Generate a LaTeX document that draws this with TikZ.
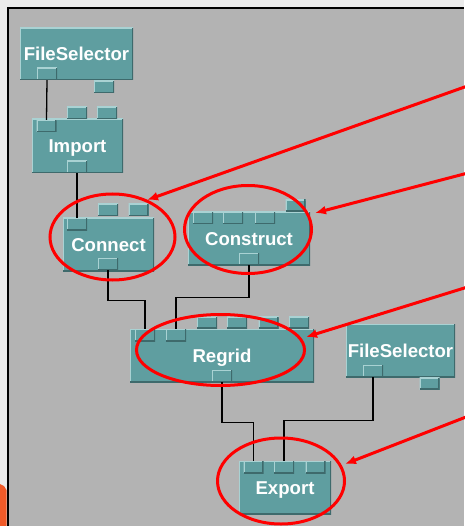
\documentclass[tikz,border=0pt]{standalone}
\usepackage{fontspec}
\setmainfont{Liberation Sans}
\usetikzlibrary{arrows.meta,shapes.geometric}
\definecolor{cadet}{HTML}{5F9EA0}
\definecolor{edgelight}{HTML}{A9D2D3}
\definecolor{edgedark}{HTML}{3E6A6C}
\definecolor{panelgray}{HTML}{B3B3B3}
\definecolor{outergray}{HTML}{EBEBEB}
\definecolor{orangemark}{HTML}{F05A28}
\definecolor{hl}{HTML}{FF0000}
\tikzset{
  bevel/.style={path picture={
    \draw[line width=2.4pt,edgelight] (path picture bounding box.south west) -- (path picture bounding box.north west) -- (path picture bounding box.north east);
    \draw[line width=2.4pt,edgedark] (path picture bounding box.north east) -- (path picture bounding box.south east) -- (path picture bounding box.south west);}},
  mod/.style={fill=cadet, bevel, text=white, inner sep=0pt,
    font=\fontsize{18.6}{20}\selectfont\bfseries, text height=13.3pt, text depth=0pt},
  prt/.style={fill=cadet, bevel, inner sep=0pt, minimum width=20pt, minimum height=12pt},
  wire/.style={draw=black, line width=1.3pt},
  ring/.style={ellipse, draw=hl, line width=3pt, inner sep=0pt},
  pointer/.style={draw=hl, line width=3pt, -{Latex[length=11pt,width=9pt]}}
}
\begin{document}
\begin{tikzpicture}[x=1pt,y=-1pt]
\useasboundingbox (0,0) rectangle (464,526);
\fill[outergray] (0,0) rectangle (464,526);
\fill[orangemark] (0,484) -- (4,486) -- (6.5,490) -- (6.5,526) -- (0,526) -- cycle;
\fill[panelgray] (8,8.5) rectangle (464,526);
\draw[line width=2pt,black] (8,526) -- (8,8.5) -- (464,8.5);

% modules
\node[mod, minimum width=113pt, minimum height=52pt] (fs1) at (76.5,54) {FileSelector};
\node[mod, minimum width=91pt, minimum height=54pt] (imp) at (77.5,146) {Import};
\node[mod, minimum width=91pt, minimum height=53pt] (con) at (108.5,244.5) {Connect};
\node[mod, minimum width=122pt, minimum height=53pt] (cst) at (249,238.5) {Construct};
\node[mod, minimum width=184pt, minimum height=53pt] (rg) at (222,355.5) {Regrid};
\node[mod, minimum width=109pt, minimum height=53pt] (fs2) at (400.5,350.5) {FileSelector};
\node[mod, minimum width=92pt, minimum height=53pt] (ex) at (285,487.5) {Export};

% ports
\node[prt] (fs1o) at (47,74) {};
\node[prt] (fs1x) at (104,87) {};
\node[prt] (imp1) at (46.5,126) {};
\node[prt] (imp2) at (77,113) {};
\node[prt] (imp3) at (107,113) {};
\node[prt] (impo) at (77,167) {};
\node[prt] (con1) at (77,224) {};
\node[prt] (con2) at (108,210) {};
\node[prt] (con3) at (138.5,210) {};
\node[prt] (cono) at (108,264) {};
\node[prt] (cst1) at (203,218) {};
\node[prt] (cst2) at (233,218) {};
\node[prt] (cst3) at (265,218) {};
\node[prt] (cst4) at (295.5,205.5) {};
\node[prt] (csto) at (249,259) {};
\node[prt] (rg1) at (145,335) {};
\node[prt] (rg2) at (176,335) {};
\node[prt] (rg3) at (207,322.5) {};
\node[prt] (rg4) at (237,322.5) {};
\node[prt] (rg5) at (268.5,322.5) {};
\node[prt] (rg6) at (299,322.5) {};
\node[prt] (rgo) at (222,376) {};
\node[prt] (fs2o) at (373,371) {};
\node[prt] (fs2x) at (429.5,383.5) {};
\node[prt] (ex1) at (253.5,467) {};
\node[prt] (ex2) at (284,467) {};
\node[prt] (ex3) at (315.5,467) {};

% wires
\draw[wire] (fs1o.south) -- (imp1.north);
\draw[wire] (impo.south) -- (con1.north);
\draw[wire] (cono.south) -- ++(0,30) -| (rg1.north);
\draw[wire] (csto.south) -- ++(0,32) -| (rg2.north);
\draw[wire] (rgo.south) -- ++(0,40) -| (ex1.north);
\draw[wire] (fs2o.south) -- ++(0,43) -| (ex2.north);

% highlight rings
\node[ring, minimum width=125pt, minimum height=86pt] (rcon) at (112.5,237) {};
\node[ring, minimum width=127pt, minimum height=88pt] (rcst) at (248,229.5) {};
\node[ring, minimum width=168pt, minimum height=71pt] (rrg) at (220.5,350) {};
\node[ring, minimum width=127pt, minimum height=86pt] (rex) at (281,481) {};

% pointers
\coordinate (p1) at (466,86.5);
\coordinate (p2) at (466,173.5);
\coordinate (p3) at (466,287.5);
\coordinate (p4) at (466,417);
\coordinate (t1) at (147,200);
\coordinate (t2) at (315,213);
\coordinate (t3) at (306,337);
\coordinate (t4) at (345,464);
\draw[pointer] (p1) -- (t1);
\draw[pointer] (p2) -- (t2);
\draw[pointer] (p3) -- (t3);
\draw[pointer] (p4) -- (t4);
\end{tikzpicture}
\end{document}
